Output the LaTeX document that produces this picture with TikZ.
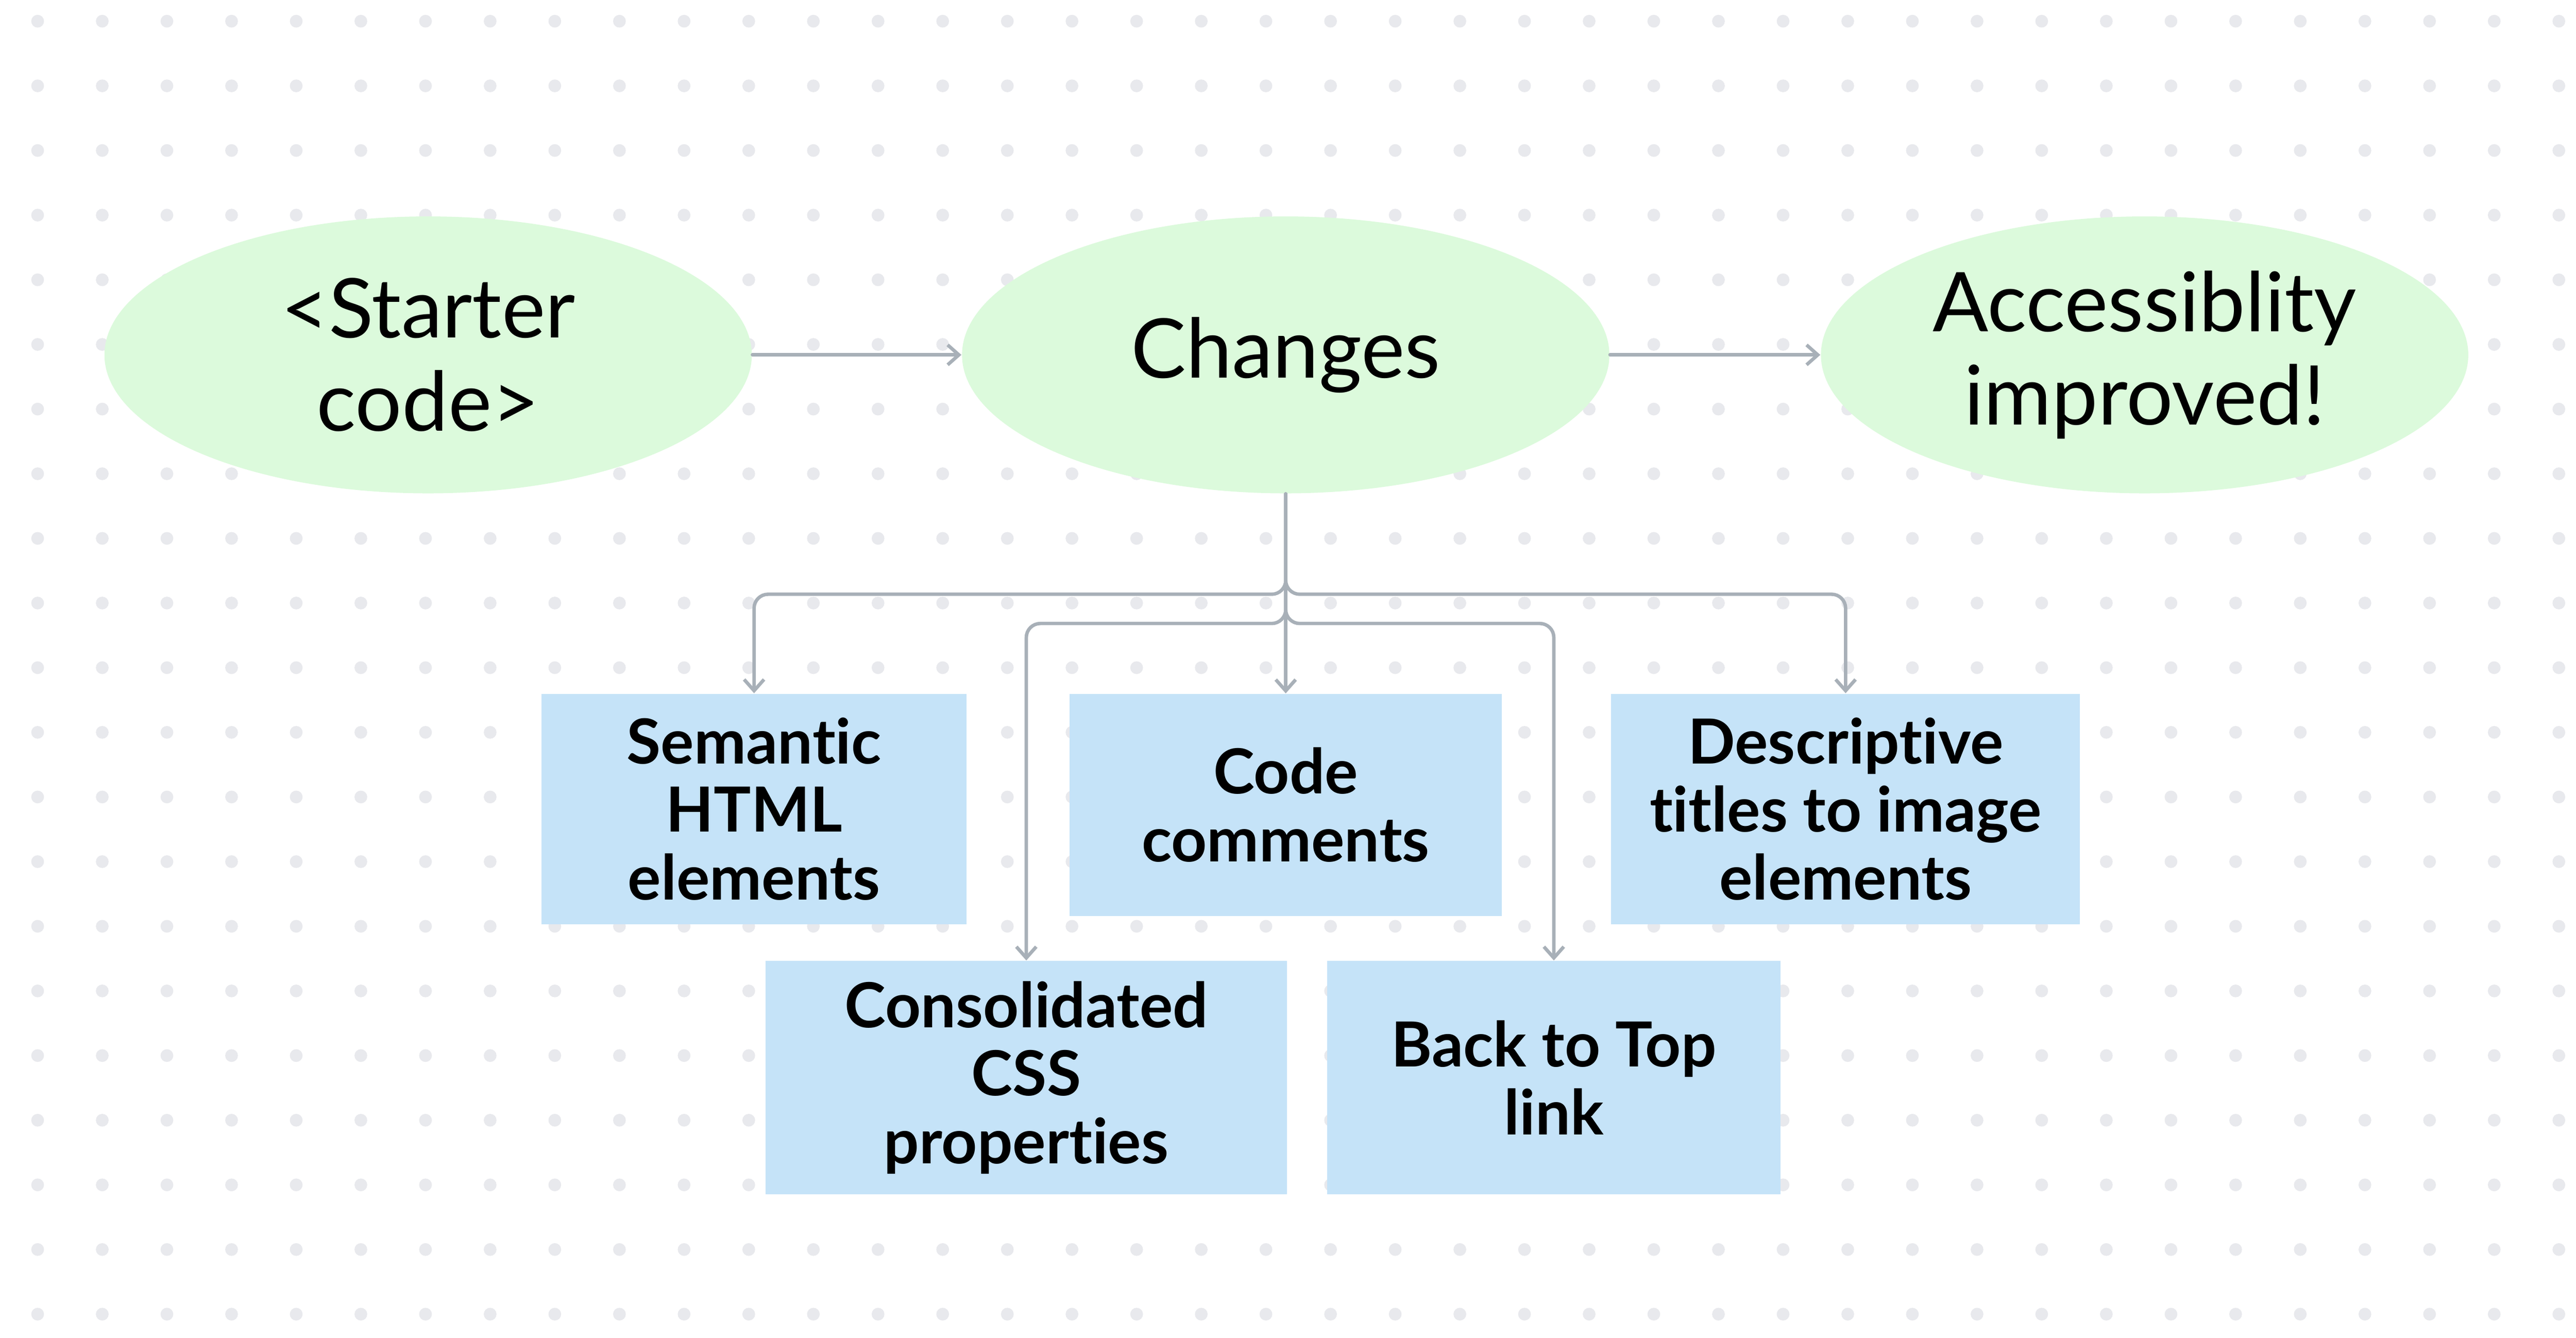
\documentclass[tikz,border=0pt]{standalone}
\usepackage{fontspec}
\setmainfont{Lato}[Ligatures={NoCommon}]
\usetikzlibrary{shapes.geometric,arrows.meta}
\definecolor{ellfill}{RGB}{220,250,220}
\definecolor{boxfill}{RGB}{197,227,248}
\definecolor{connc}{RGB}{168,176,184}
\definecolor{dotc}{RGB}{232,233,237}
\begin{document}
\begin{tikzpicture}[x=0.018571cm,y=-0.018571cm,
  ell/.style={ellipse, fill=ellfill, draw=none, inner sep=0pt,
    minimum width=7.317cm, minimum height=3.13cm, align=center,
    font=\fontsize{26.5}{30}\selectfont},
  boxn/.style={rectangle, fill=boxfill, draw=none, inner sep=0pt, align=center,
    font=\bfseries\fontsize{20}{21.9}\selectfont},
  conn/.style={draw=connc, line width=1.1pt, line cap=round, rounded corners=4.5pt,
    -{Straight Barb[length=3.6pt,width=6.4pt]}}]
\useasboundingbox (0,0) rectangle (1568,814.2);
\fill[white] (0,0) rectangle (1568,814.2);
\foreach \i in {0,...,39}
  \foreach \j in {0,...,20}
    \fill[dotc] (22.9+39.35*\i, 12.9+39.35*\j) circle[radius=0.072cm];

\node[ell] (start) at (260.6,216) {<Starter\\code>};
\node[ell] (chg) at (782.6,216) {\raisebox{-1.5pt}{Changes}};
\node[ell] (acc) at (1305.4,216) {Accessiblity\\improved!};

\node[boxn, minimum width=4.802cm, minimum height=2.606cm] (sem) at (459,492.5) {Semantic\\HTML\\elements};
\node[boxn, minimum width=4.884cm, minimum height=2.51cm] (code) at (782.6,490) {Code\\comments};
\node[boxn, minimum width=5.30cm, minimum height=2.606cm] (desc) at (1123.4,492.5) {Descriptive\\titles to image\\elements};
\node[boxn, minimum width=5.896cm, minimum height=2.637cm] (css) at (624.7,656) {Consolidated\\CSS\\properties};
\node[boxn, minimum width=5.12cm, minimum height=2.637cm] (top) at (945.8,656) {Back to Top\\link};

\draw[conn] (start.east) -- (chg.west);
\draw[conn] (chg.east) -- (acc.west);

\draw[conn] (chg.south) |- (sem.north |- 0,361.7) -- (sem.north);
\draw[conn] (chg.south) |- (desc.north |- 0,361.7) -- (desc.north);
\draw[conn] (chg.south) |- (css.north |- 0,379.5) -- (css.north);
\draw[conn] (chg.south) |- (top.north |- 0,379.5) -- (top.north);
\draw[conn] (chg.south) -- (code.north);
\end{tikzpicture}
\end{document}
